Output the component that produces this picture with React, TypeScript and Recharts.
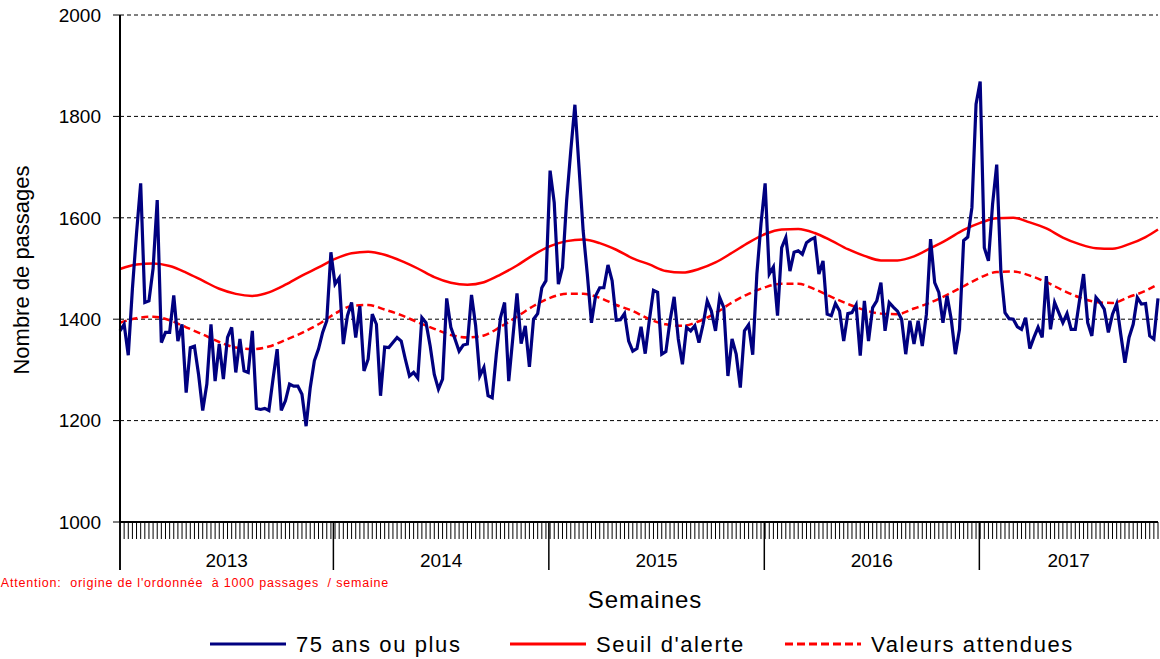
import { LineChart, Line, XAxis, YAxis, CartesianGrid, Legend } from 'recharts';

// weekly emergency visits, 75+ (first week of 2013 .. week ~44 of 2017)
const plus75 = [
  1377, 1390, 1329, 1460, 1570, 1668, 1433, 1436, 1500, 1635, 1354, 1374, 1374, 1447, 1357, 1390,
  1255, 1344, 1347, 1291, 1220, 1272, 1390, 1278, 1351, 1282, 1364, 1384, 1295, 1361, 1298, 1295,
  1377, 1224, 1222, 1224, 1220, 1282, 1341, 1220, 1239, 1272, 1268, 1268, 1252, 1189, 1265, 1318,
  1341, 1374, 1397, 1532, 1469, 1481, 1351, 1407, 1433, 1364, 1426, 1298, 1321, 1410, 1390, 1249,
  1345, 1344, 1354, 1364, 1357, 1321, 1288, 1295, 1284, 1403, 1393, 1347, 1291, 1262, 1282, 1441,
  1384, 1361, 1337, 1349, 1351, 1448, 1387, 1288, 1305, 1249, 1245, 1331, 1403, 1433, 1278, 1364,
  1451, 1352, 1387, 1306, 1400, 1411, 1462, 1476, 1693, 1630, 1469, 1502, 1634, 1732, 1823, 1699,
  1574, 1489, 1393, 1446, 1462, 1462, 1507, 1476, 1398, 1399, 1411, 1357, 1337, 1342, 1385, 1332,
  1398, 1457, 1453, 1331, 1336, 1397, 1444, 1361, 1311, 1384, 1377, 1387, 1354, 1390, 1436, 1416,
  1377, 1443, 1423, 1288, 1361, 1331, 1265, 1377, 1389, 1330, 1489, 1588, 1668, 1489, 1503, 1407,
  1541, 1561, 1495, 1532, 1535, 1528, 1551, 1557, 1561, 1489, 1515, 1410, 1407, 1431, 1416, 1357,
  1411, 1413, 1428, 1328, 1436, 1357, 1423, 1436, 1472, 1377, 1433, 1424, 1416, 1400, 1331, 1397,
  1351, 1397, 1347, 1410, 1558, 1472, 1453, 1393, 1446, 1400, 1331, 1380, 1555, 1562, 1620, 1824,
  1869, 1541, 1515, 1627, 1705, 1495, 1413, 1401, 1400, 1385, 1380, 1403, 1342, 1364, 1384, 1364,
  1485, 1380, 1433, 1413, 1393, 1411, 1380, 1380, 1436, 1489, 1393, 1367, 1443, 1433, 1420, 1374,
  1410, 1430, 1370, 1314, 1364, 1390, 1443, 1430, 1431, 1367, 1361, 1441,
];

// red curves read every 4 weeks
const sampleWeeks = [
  0, 4, 8, 12, 16, 20, 24, 28, 32, 36, 40, 44, 48, 52, 56, 60, 64, 68, 72, 76, 80, 84, 88, 92,
  96, 100, 104, 108, 112, 116, 120, 124, 128, 132, 136, 140, 144, 148, 152, 156, 160, 164, 168,
  172, 176, 180, 184, 188, 192, 196, 200, 204, 208, 212, 216, 220, 224, 228, 232, 236, 240, 244,
  248, 251,
];
const seuil = [
  1499, 1508, 1510, 1505, 1492, 1476, 1460, 1450, 1446, 1453, 1468, 1486, 1502, 1519, 1530, 1533,
  1527, 1515, 1500, 1483, 1472, 1468, 1473, 1488, 1506, 1527, 1544, 1554, 1557, 1550, 1537, 1520,
  1508, 1495, 1492, 1499, 1512, 1531, 1551, 1568, 1577, 1578, 1570, 1555, 1538, 1525, 1516, 1516,
  1524, 1540, 1557, 1576, 1590, 1599, 1600, 1591, 1579, 1561, 1548, 1540, 1539, 1548, 1562, 1577,
];
const attendues = [
  1393, 1402, 1405, 1398, 1384, 1370, 1355, 1344, 1341, 1346, 1359, 1373, 1390, 1411, 1426, 1428,
  1419, 1408, 1394, 1381, 1369, 1364, 1368, 1385, 1405, 1426, 1442, 1450, 1450, 1442, 1428, 1416,
  1400, 1390, 1387, 1396, 1412, 1433, 1450, 1463, 1470, 1470, 1459, 1444, 1430, 1418, 1411, 1410,
  1421, 1433, 1448, 1465, 1482, 1493, 1494, 1486, 1473, 1457, 1443, 1434, 1432, 1444, 1456, 1469,
];

const years = ['2013', '2014', '2015', '2016', '2017'];
const yearStarts = [0, 51.6, 103.7, 155.8, 207.8];
const lastWeek = 251;
const yTicks = [1000, 1200, 1400, 1600, 1800, 2000];

const data = plus75.map((v, i) => {
  const k = sampleWeeks.indexOf(i);
  return {
    week: i,
    plus75: v,
    seuil: k >= 0 ? seuil[k] : null,
    attendues: k >= 0 ? attendues[k] : null,
  };
});

const yearMids = yearStarts.map((s, i) => (s + (i < yearStarts.length - 1 ? yearStarts[i + 1] : lastWeek)) / 2);
const xTicks = [...plus75.map((_, i) => i), ...yearStarts, ...yearMids];

const FONT = '"Liberation Sans", Arial, sans-serif';

const WeekTick = (props: any) => {
  const { x, y, payload } = props;
  const v = payload.value;
  const m = yearMids.indexOf(v);
  if (m >= 0) {
    return (
      <text x={x} y={y + 45} textAnchor="middle" fontSize={19} fontFamily={FONT} fill="#000">
        {years[m]}
      </text>
    );
  }
  if (yearStarts.includes(v)) {
    return <line x1={x} x2={x} y1={y} y2={y + 48} stroke="#000" strokeWidth={1.5} />;
  }
  return <line x1={x} x2={x} y1={y} y2={y + 17} stroke="#000" strokeWidth={1} />;
};

const legendItems = [
  { x: 210, label: '75 ans ou plus', color: '#000080', dash: undefined },
  { x: 510, label: "Seuil d'alerte", color: '#ff0000', dash: undefined },
  { x: 785, label: 'Valeurs attendues', color: '#ff0000', dash: '8 4' },
];

const LegendContent = () => (
  <svg width={1160} height={35}>
    {legendItems.map((it) => (
      <g key={it.label}>
        <line x1={it.x} x2={it.x + 76} y1={17} y2={17} stroke={it.color} strokeWidth={3} strokeDasharray={it.dash} />
        <text x={it.x + 86} y={25} fontSize={22} letterSpacing={1.6} fontFamily={FONT} fill="#000">
          {it.label}
        </text>
      </g>
    ))}
  </svg>
);

export default function App() {
  return (
    <div style={{ position: 'absolute', left: 0, top: 0, width: 1160, height: 659, background: '#fff' }}>
      <LineChart width={1160} height={659} data={data} margin={{ top: 15, right: 2, left: 0, bottom: 0 }}>
        <CartesianGrid vertical={false} stroke="#000" strokeDasharray="4 3" />
        <XAxis
          dataKey="week"
          type="number"
          domain={[0, lastWeek]}
          ticks={xTicks}
          interval={0}
          tick={WeekTick}
          tickLine={false}
          tickSize={0}
          tickMargin={0}
          height={102}
          axisLine={{ stroke: '#000', strokeWidth: 2 }}
        />
        <YAxis
          domain={[1000, 2000]}
          ticks={yTicks}
          interval={0}
          width={120}
          tickSize={7}
          tickMargin={12}
          tickLine={{ stroke: '#000' }}
          axisLine={{ stroke: '#000', strokeWidth: 2 }}
          tick={{ fontSize: 19, fontFamily: FONT, fill: '#000' }}
        />
        <Legend
          content={LegendContent}
          wrapperStyle={{ position: 'absolute', left: 0, top: 627, width: 1160, height: 35 }}
        />
        <Line type="monotone" dataKey="seuil" connectNulls stroke="#ff0000" strokeWidth={2.5} dot={false} isAnimationActive={false} />
        <Line type="monotone" dataKey="attendues" connectNulls stroke="#ff0000" strokeWidth={2.5} strokeDasharray="7 4" dot={false} isAnimationActive={false} />
        <Line type="linear" dataKey="plus75" stroke="#000080" strokeWidth={3.2} dot={false} isAnimationActive={false} />
        <text x={-270} y={29} transform="rotate(-90)" textAnchor="middle" fontSize={22} fontFamily={FONT} fill="#000">
          Nombre de passages
        </text>
        <text x={389} y={587} textAnchor="end" fontSize={12.5} letterSpacing={0.8} xmlSpace="preserve" style={{ whiteSpace: 'pre' }} fontFamily={FONT} fill="#ff0000">
          {"Attention:  origine de l'ordonnée  à 1000 passages  / semaine"}
        </text>
        <text x={645} y={608} textAnchor="middle" fontSize={24} letterSpacing={1} fontFamily={FONT} fill="#000">
          Semaines
        </text>
      </LineChart>
    </div>
  );
}
